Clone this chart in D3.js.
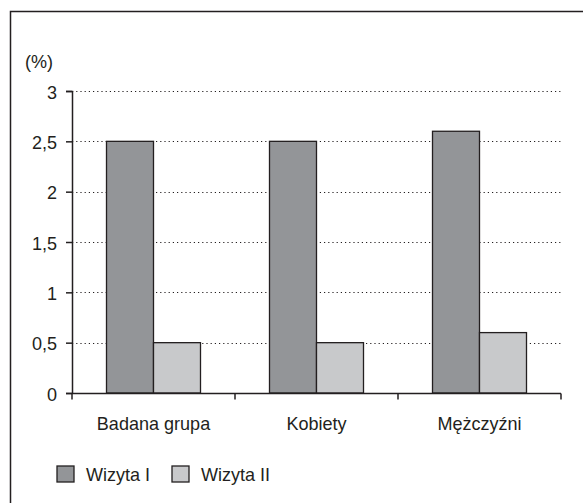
<!DOCTYPE html>
<html><head><meta charset="utf-8">
<script src="https://cdn.jsdelivr.net/npm/d3@7"></script>
<style>body{margin:0;background:#fff}svg{display:block}text{font-family:"Liberation Sans",Arial,sans-serif;fill:#231f20}</style>
</head><body><svg id="c" width="583" height="503"></svg>
<script>
const categories = ["Badana grupa","Kobiety","Mężczyźni"];
const seriesNames = ["Wizyta I","Wizyta II"];
const wizyta1 = [2.5,2.5,2.6];
const wizyta2 = [0.5,0.5,0.6];
const yTicks = [0,0.5,1,1.5,2,2.5,3];
const yTickLabels = ["0","0,5","1","1,5","2","2,5","3"];
const colors = ["#939598","#c8c9cb"];

const FS = 19, SX = 0.95;
const ff = '"Liberation Sans",Arial,sans-serif';
function narrow(sel){
  sel.each(function(){
    const t = d3.select(this);
    const xx = +t.attr("x") || 0;
    t.attr("transform",`translate(${xx},0) scale(${SX},1) translate(${-xx},0)`);
  });
}

const svg = d3.select("#c");
const stroke = "#231f20";
// frame
svg.append("path").attr("d","M10.5,503 V11.5 H583").attr("fill","none").attr("stroke",stroke).attr("stroke-width",1.5);

const x = d3.scaleBand().domain(categories).range([72,561]);
const y = d3.scaleLinear().domain([0,3]).range([393,91]);
const x1 = d3.scaleBand().domain(seriesNames).range([34.5, x.bandwidth()-34.5]);

// gridlines
svg.append("g").selectAll("line").data(yTicks.filter(d=>d>0)).join("line")
  .attr("x1",72).attr("x2",561).attr("y1",d=>Math.round(y(d))+0.5).attr("y2",d=>Math.round(y(d))+0.5)
  .attr("stroke","#231f20").attr("stroke-width",1.2).attr("stroke-dasharray","1.2,3");

// bars
const data = categories.map((c,i)=>({c, v:[wizyta1[i],wizyta2[i]]}));
const g = svg.append("g");
data.forEach(d=>{
  seriesNames.forEach((s,j)=>{
    g.append("rect").attr("x",x(d.c)+x1(s)).attr("width",x1.bandwidth())
      .attr("y",y(d.v[j])).attr("height",y(0)-y(d.v[j]))
      .attr("fill",colors[j]).attr("stroke",stroke).attr("stroke-width",1.3);
  });
});

// y axis
const ya = svg.append("g").attr("transform","translate(72,0)")
  .call(d3.axisLeft(y).tickValues(yTicks).tickFormat((d,i)=>yTickLabels[i]).tickSize(6).tickPadding(9));
ya.select(".domain").attr("stroke",stroke).attr("stroke-width",1.5).attr("d","M-6,91.5H0.5V393.5");
ya.selectAll(".tick line").attr("stroke",stroke).attr("stroke-width",1.5);
ya.selectAll("text").attr("font-size",FS).attr("dy","0.38em").style("font-family",ff).attr("fill",stroke).call(narrow);

// x axis
const xa = svg.append("g").attr("transform","translate(0,393.5)")
  .call(d3.axisBottom(x).tickSize(0).tickPadding(23));
xa.select(".domain").attr("stroke",stroke).attr("stroke-width",1.5).attr("d","M66,0H561");
xa.selectAll("text").attr("font-size",FS).style("font-family",ff).attr("fill",stroke).call(narrow);
xa.append("g").selectAll("line").data(categories.map(c=>x(c)).concat([x.range()[1]])).join("line")
  .attr("x1",d=>d).attr("x2",d=>d).attr("y1",0).attr("y2",6).attr("stroke",stroke).attr("stroke-width",1.5);

// unit label
svg.append("text").attr("x",25).attr("y",68).attr("font-size",FS).text("(%)").call(narrow);

// legend
const lg = svg.append("g");
const lx = [57,172];
seriesNames.forEach((s,j)=>{
  lg.append("rect").attr("x",lx[j]).attr("y",466).attr("width",17).attr("height",16)
    .attr("fill",colors[j]).attr("stroke",stroke).attr("stroke-width",1.3);
  lg.append("text").attr("x",lx[j]+29).attr("y",481).attr("font-size",FS).text(s).call(narrow);
});
</script></body></html>
